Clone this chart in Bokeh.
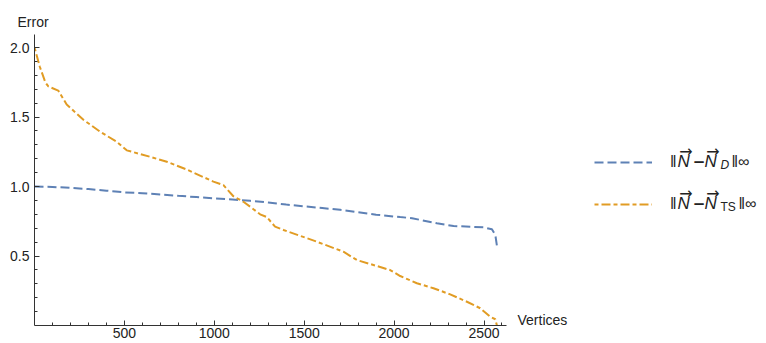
from bokeh.plotting import figure
from bokeh.models import (FixedTicker, NumeralTickFormatter, Legend, LegendItem, Label,
                          Range1d, Title)
from bokeh.core.properties import value
from bokeh.embed import file_html
from bokeh.resources import INLINE

# ---- data ----
d_x = [0, 100, 200, 300, 400, 500, 600, 700, 800, 900, 1000, 1100, 1200, 1300, 1400,
       1500, 1600, 1700, 1800, 1900, 2034, 2100, 2238, 2331, 2498, 2544, 2563, 2572]
d_y = [1.0, 0.997, 0.99, 0.982, 0.97, 0.958, 0.952, 0.943, 0.933, 0.924, 0.915, 0.906,
       0.897, 0.885, 0.87, 0.857, 0.845, 0.832, 0.815, 0.797, 0.78, 0.772, 0.735, 0.716,
       0.706, 0.692, 0.651, 0.572]

ts_x = [0, 15, 30, 60, 77, 132, 179, 272, 364, 457, 513, 643, 736, 847, 995, 1051, 1106,
        1162, 1199, 1255, 1292, 1338, 1385, 1570, 1718, 1793, 1978, 2034, 2127, 2219,
        2312, 2405, 2479, 2535, 2563, 2572]
ts_y = [2.0, 1.93, 1.86, 1.75, 1.72, 1.69, 1.59, 1.48, 1.395, 1.322, 1.26, 1.214, 1.178,
        1.122, 1.035, 1.01, 0.93, 0.89, 0.855, 0.80, 0.78, 0.711, 0.687, 0.603, 0.531,
        0.471, 0.399, 0.356, 0.304, 0.268, 0.224, 0.171, 0.124, 0.063, 0.045, 0.0]

x_ticks = [500, 1000, 1500, 2000, 2500]
x_minor = list(range(100, 2700, 100))
y_ticks = [0.5, 1.0, 1.5, 2.0]
y_minor = [round(0.1 * i, 1) for i in range(1, 21)]
x_axis_end = 2624
y_axis_end = 2.09

x_label = "Vertices"
y_label = "Error"
norm_bar = "\u2016"
vec_n = "N"
vec_arrow = "\u2192"
minus = "\u2212"
legend_sub = ["D", "TS"]
legend_tail = "\u2016\u221e"

BLUE = "#5E81B5"
ORANGE = "#E19C24"
FONT = "Liberation Sans"
SYM_FONT = "DejaVu Sans"
INK = "#222222"

# ---- layout (pixels of the page) ----
W, H = 766, 343
LEFT, BOTTOM, TOP = 34, 325, 30   # axes cross at (LEFT, BOTTOM); frame top
PX_X = 0.1798                     # px per vertex
PX_Y = 139.0                      # px per unit of error


def X(px):
    return (px - LEFT) / PX_X


def Y(py):
    return (BOTTOM - py) / PX_Y


p = figure(width=W, height=H, output_backend="svg", toolbar_location=None,
           x_range=Range1d(0, X(W)), y_range=Range1d(0, Y(TOP)),
           min_border_left=LEFT, min_border_top=TOP, min_border_bottom=H - BOTTOM,
           min_border_right=0)
p.xgrid.grid_line_color = None
p.ygrid.grid_line_color = None
p.outline_line_color = None

for ax in (p.xaxis[0], p.yaxis[0]):
    ax.axis_label = None
    ax.axis_line_color = "#333333"
    ax.axis_line_width = 1
    ax.major_tick_line_color = "#333333"
    ax.minor_tick_line_color = "#333333"
    ax.major_tick_in = 5
    ax.major_tick_out = 0
    ax.minor_tick_in = 3
    ax.minor_tick_out = 0
    ax.major_label_text_font = FONT
    ax.major_label_text_font_size = "14px"
    ax.major_label_text_color = INK

p.xaxis[0].ticker = FixedTicker(ticks=x_ticks, minor_ticks=x_minor)
p.yaxis[0].ticker = FixedTicker(ticks=y_ticks, minor_ticks=y_minor)
p.yaxis[0].formatter = NumeralTickFormatter(format="0.0")
p.xaxis[0].bounds = (0, x_axis_end)
p.yaxis[0].bounds = (0, y_axis_end)
p.xaxis[0].major_label_standoff = 2
p.yaxis[0].major_label_standoff = 5

r1 = p.line(d_x, d_y, line_color=BLUE, line_width=2, line_dash="9 4")
r2 = p.line(ts_x, ts_y, line_color=ORANGE, line_width=2, line_dash="4 3 9 3")

# y-axis name above the axis, as a title
p.add_layout(Title(text=y_label, align="left", offset=17 - LEFT, standoff=2,
                   text_font=FONT, text_font_size="14px", text_font_style="normal",
                   text_color=INK), "above")

# legend: samples + opening norm bar; the rest of each label is set piece by piece
legend = Legend(items=[LegendItem(label=value(norm_bar), renderers=[r1]),
                       LegendItem(label=value(norm_bar), renderers=[r2])],
                location=(594 - LEFT, BOTTOM - 217), glyph_width=58, glyph_height=20,
                label_height=27, spacing=15, padding=0, margin=0, label_standoff=18,
                border_line_color=None, background_fill_alpha=0,
                label_text_font=FONT, label_text_font_size="16px",
                label_text_color=INK)
p.add_layout(legend)


def piece(px, py, text, font=FONT, size="16px", style="normal", align="left"):
    # py is the vertical centre of the text
    p.add_layout(Label(x=X(px), y=Y(py), text=text, text_font=font, text_font_size=size,
                       text_font_style=style, text_align=align, text_baseline="middle",
                       text_color=INK))


def legend_text(mid, sub, sub_style, tail_x):
    for nx in (677, 704):
        piece(nx, mid, vec_n, size="17px", style="italic")
        piece(nx + 8.5, mid - 10.5, vec_arrow, font=SYM_FONT, size="16px",
              align="center")
    piece(698.5, mid - 0.5, minus, font=SYM_FONT, size="15px", style="bold",
          align="center")
    piece(720, mid + 3, sub, size="12px", style=sub_style)
    piece(tail_x, mid, legend_tail)


legend_text(161, legend_sub[0], "italic", 731)
legend_text(203, legend_sub[1], "normal", 738)

# x-axis name at the end of the axis
piece(517, 319.5, x_label, size="14px")

open("out.html", "w").write(file_html(p, INLINE))
